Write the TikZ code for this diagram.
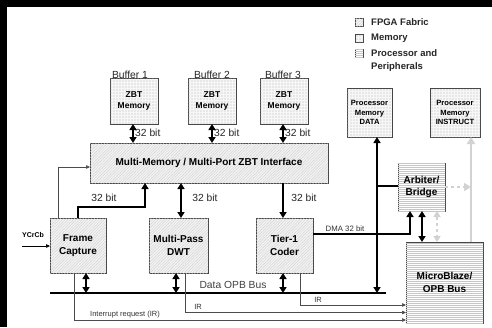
\documentclass[tikz,border=0pt]{standalone}
\usepackage{fontspec}
\setmainfont{Liberation Sans}
\usetikzlibrary{patterns.meta,arrows.meta,calc}
\begin{document}
\begin{tikzpicture}[x=1pt,y=-1pt,
  boxline/.style={draw=gray!55!black, line width=0.5pt},
  fabric/.style={boxline, fill=gray!10, postaction={pattern={Lines[angle=45,distance=2pt,line width=0.3pt]}, pattern color=gray!40}},
  memory/.style={boxline, fill=gray!6, postaction={pattern={Dots[distance=3pt,radius=0.6pt]}, pattern color=gray!60}},
  proc/.style={boxline, fill=white, postaction={pattern={Lines[angle=0,distance=2pt,line width=0.3pt]}, pattern color=gray!45}},
  blk/.style={inner sep=0pt, outer sep=0pt, align=center},
  bigtxt/.style={font=\fontsize{10}{11.5}\selectfont\bfseries},
  memtxt/.style={font=\fontsize{8.5}{10.5}\selectfont\bfseries},
  pmtxt/.style={font=\fontsize{7.6}{9.5}\selectfont\bfseries},
  lbl/.style={font=\fontsize{10.3}{11}\selectfont, inner sep=0pt, text=black!85},
  smalllbl/.style={font=\fontsize{7.5}{8}\selectfont, inner sep=0pt, text=black!80},
  legtxt/.style={font=\fontsize{9.5}{10}\selectfont\bfseries, inner sep=0pt, anchor=west, text=black!85},
  bigarr/.style={line width=2.2pt, -{Triangle[length=6pt,width=7pt]}},
  dblarr/.style={line width=2.2pt, {Triangle[length=6pt,width=7pt]}-{Triangle[length=6pt,width=7pt]}},
  thickline/.style={line width=2.2pt},
  thinarr/.style={line width=0.6pt, draw=gray!60!black, -{Triangle[length=4pt,width=3.5pt]}},
  grayarr/.style={line width=2.5pt, draw=gray!35, -{Triangle[length=7pt,width=8pt]}},
  graydot/.style={line width=2.2pt, draw=gray!35, dash pattern=on 3pt off 3pt, -{Triangle[length=7pt,width=8pt]}},
  graydbl/.style={line width=2.2pt, draw=gray!35, dash pattern=on 3pt off 3pt, {Triangle[length=6pt,width=7pt]}-{Triangle[length=6pt,width=7pt]}}
]
\useasboundingbox (0,0) rectangle (492,327);
\fill[white] (0,0) rectangle (492,327);
% frame
\fill[black] (0,0) rectangle (492,7);
\fill[black] (0,0) rectangle (7,327);

% legend
\node[fabric, blk, minimum size=8pt] (lg1) at (359,22) {};
\node[legtxt] (lt1) at (371,22) {FPGA Fabric};
\node[memory, blk, minimum size=8pt] (lg2) at (359,38) {};
\node[legtxt] (lt2) at (371,38) {Memory};
\node[proc, blk, minimum size=8pt] (lg3) at (359,53) {};
\node[legtxt] (lt3) at (371,53) {Processor and};
\node[legtxt] (lt4) at (371,67) {Peripherals};

% buffers
\node[lbl] (b1) at (130,75) {Buffer 1};
\node[lbl] (b2) at (212,75) {Buffer 2};
\node[lbl] (b3) at (283,75) {Buffer 3};
\node[memory, blk, memtxt, minimum width=48pt, minimum height=46pt] (zbt1) at (134,101) {ZBT\\Memory};
\node[memory, blk, memtxt, minimum width=48pt, minimum height=46pt] (zbt2) at (212,101) {ZBT\\Memory};
\node[memory, blk, memtxt, minimum width=48pt, minimum height=46pt] (zbt3) at (284,101) {ZBT\\Memory};

% interface
\node[fabric, blk, bigtxt, minimum width=238pt, minimum height=40pt] (iface) at (209,163) {Multi-Memory / Multi-Port ZBT Interface};

% blocks
\node[fabric, blk, bigtxt, minimum width=56pt, minimum height=55pt] (fc) at (78,245.5) {Frame\\[1pt]Capture};
\node[fabric, blk, bigtxt, minimum width=59pt, minimum height=55pt] (dwt) at (178.5,245.5) {Multi-Pass\\[1pt]DWT};
\node[fabric, blk, bigtxt, minimum width=57pt, minimum height=55pt] (tier) at (284.5,245.5) {Tier-1\\[1pt]Coder};

% processor side
\node[memory, blk, pmtxt, minimum width=45pt, minimum height=49pt] (pdata) at (369.5,112.5) {Processor\\Memory\\DATA};
\node[memory, blk, pmtxt, minimum width=50pt, minimum height=49pt] (pinst) at (455,112.5) {Processor\\Memory\\INSTRUCT};
\node[proc, blk, bigtxt, minimum width=47pt, minimum height=48pt] (arb) at (421.5,187) {Arbiter/\\[1pt]Bridge};
\node[proc, blk, bigtxt, minimum width=77pt, minimum height=81pt] (mb) at (444.5,282.5) {MicroBlaze/\\[2pt]OPB Bus};

% buffer connections
\draw[dblarr] ([xshift=-1pt]zbt1.south) -- ([xshift=-1pt]zbt1.south |- iface.north);
\node[lbl, anchor=west] (l1) at (135,133) {32 bit};
\draw[dblarr] (zbt2.south) -- (zbt2.south |- iface.north);
\node[lbl, anchor=west] (l2) at (214,133) {32 bit};
\draw[dblarr] ([xshift=-1pt]zbt3.south) -- ([xshift=-1pt]zbt3.south |- iface.north);
\node[lbl, anchor=west] (l3) at (285,133) {32 bit};

% frame capture to interface
\draw[thinarr] ([xshift=8pt]fc.north west) |- ([yshift=-4pt]iface.west);
\draw[bigarr] (fc.north) -- ++(0,-11) -| ([xshift=-64pt]iface.south);
\node[lbl] (l4) at (104,198) {32 bit};
\draw[dblarr] ([xshift=2.5pt]dwt.north) -- ([xshift=2.5pt]dwt.north |- iface.south);
\node[lbl] (l5) at (205,198) {32 bit};
\draw[bigarr] ([xshift=-1.5pt]tier.north |- iface.south) -- ([xshift=-1.5pt]tier.north);
\node[lbl] (l6) at (304,198) {32 bit};

% YCrCb input
\node[font=\fontsize{7}{8}\selectfont\bfseries, inner sep=0pt] (ycc) at (33,235) {YCrCb};
\coordinate (yin) at (22,246);
\draw[thinarr, draw=black] (yin) -- (yin -| fc.west);

% Data OPB bus
\coordinate (busL) at (50,293);
\coordinate (busR) at (386,293);
\draw[thickline] (busL) -- (busR);
\node[lbl, text=black!75] (lbus) at (233,285) {Data OPB Bus};
\draw[dblarr] ([xshift=8pt]fc.south) -- ([xshift=8pt]fc.south |- busL);
\draw[dblarr] ([xshift=-2.5pt]dwt.south) -- ([xshift=-2.5pt]dwt.south |- busL);
\draw[dblarr] ([xshift=-1.5pt]tier.south) -- ([xshift=-1.5pt]tier.south |- busL);

% processor data bus
\coordinate (pd) at (377,137);
\coordinate (pb) at (377,293);
\draw[dblarr] (pb) -- (pd);
\coordinate (pj) at (377,186);
\draw[thickline] (pj) -- (pj -| arb.west);

% DMA
\draw[bigarr] (tier.east |- 0,234) -| ([xshift=-11.5pt]arb.south);
\node[smalllbl, font=\fontsize{7.8}{8}\selectfont] (ldma) at (345,229) {DMA 32 bit};

% arbiter - microblaze
\draw[dblarr] ([xshift=0.5pt]arb.south) -- ([xshift=0.5pt]arb.south |- mb.north);
\draw[graydbl] ([xshift=15.5pt]arb.south) -- ([xshift=15.5pt]arb.south |- mb.north);
\coordinate (gx) at (471,187);
\draw[graydot] (arb.east |- gx) -- (gx);
\draw[grayarr] (mb.north -| gx) -- (pinst.south -| gx);

% interrupt lines
\draw[thinarr] ([xshift=15.5pt]tier.south) |- (mb.west |- 0,305);
\node[smalllbl] (ir3) at (318,300) {IR};
\draw[thinarr] ([xshift=6.5pt]dwt.south) |- (mb.west |- 0,312.5);
\node[smalllbl] (ir2) at (198,307) {IR};
\draw[thinarr] ([xshift=-4pt]fc.south) |- (mb.west |- 0,320);
\node[smalllbl] (ir1) at (125,315) {Interrupt request (IR)};
\end{tikzpicture}
\end{document}
